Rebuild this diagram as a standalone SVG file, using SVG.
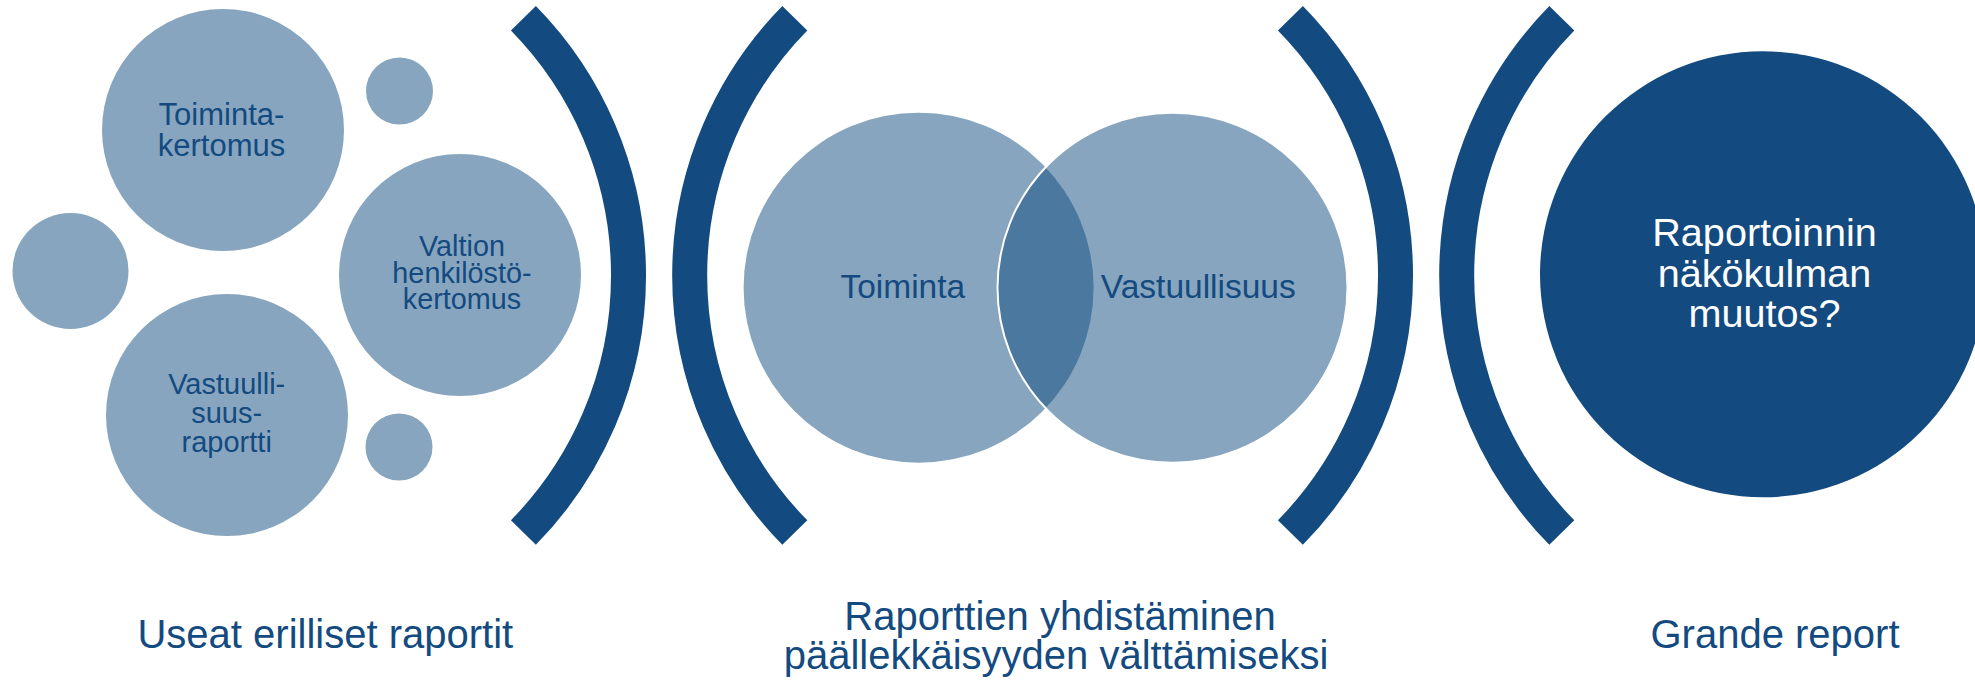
<svg xmlns="http://www.w3.org/2000/svg" width="1975" height="680" viewBox="0 0 1975 680">
  <style>
    .light { fill: #87A5BF; }
    .dark { fill: #134A7F; }
    .bracket { fill: none; stroke: #134A7F; stroke-width: 35; stroke-linecap: butt; }
    .t { font-family: "Liberation Sans", Arial, sans-serif; fill: #134A7F; text-anchor: middle; }
    .w { font-family: "Liberation Sans", Arial, sans-serif; fill: #FFFFFF; text-anchor: middle; }
  </style>
  <rect x="0" y="0" width="1975" height="680" fill="#FFFFFF"/>

  <!-- Left group: separate reports -->
  <g id="node-toimintakertomus">
    <circle class="light" cx="223" cy="130" r="121"/>
    <text class="t" font-size="31" x="221.5" y="125">Toiminta-</text>
    <text class="t" font-size="31" x="221.5" y="156">kertomus</text>
  </g>
  <g id="node-small-top">
    <circle class="light" cx="399.5" cy="91" r="33.5"/>
  </g>
  <g id="node-small-left">
    <circle class="light" cx="70.5" cy="271" r="58"/>
  </g>
  <g id="node-valtion">
    <circle class="light" cx="460" cy="275" r="121"/>
    <text class="t" font-size="28.8" x="462" y="256">Valtion</text>
    <text class="t" font-size="28.8" x="462" y="282.7">henkilöstö-</text>
    <text class="t" font-size="28.8" x="462" y="309.3">kertomus</text>
  </g>
  <g id="node-vastuullisuusraportti">
    <circle class="light" cx="227" cy="415" r="121"/>
    <text class="t" font-size="29" x="226.7" y="394">Vastuulli-</text>
    <text class="t" font-size="29" x="226.7" y="423">suus-</text>
    <text class="t" font-size="29" x="226.7" y="452">raportti</text>
  </g>
  <g id="node-small-bottom">
    <circle class="light" cx="399" cy="447" r="33.5"/>
  </g>

  <!-- Brackets -->
  <g id="connectors">
    <path class="bracket" d="M 523.4 18.25 A 367.1 367.1 0 0 1 523.4 532.55"/>
    <path class="bracket" d="M 794.8 18.25 A 367.1 367.1 0 0 0 794.8 532.55"/>
    <path class="bracket" d="M 1290.4 18.25 A 367.1 367.1 0 0 1 1290.4 532.55"/>
    <path class="bracket" d="M 1561.8 18.25 A 367.1 367.1 0 0 0 1561.8 532.55"/>
  </g>

  <!-- Middle: Venn -->
  <g id="node-toiminta">
    <circle class="light" cx="918.6" cy="287.7" r="175"/>
  </g>
  <g id="node-vastuullisuus">
    <circle cx="1172.5" cy="287.7" r="175" fill="#0F4B7F" fill-opacity="0.5" stroke="#FFFFFF" stroke-width="2"/>
  </g>
  <g id="venn-labels">
    <text class="t" font-size="33.5" x="902.8" y="298.3">Toiminta</text>
    <text class="t" font-size="33.5" x="1198.3" y="298.3">Vastuullisuus</text>
  </g>

  <!-- Right: grande report -->
  <g id="node-raportoinnin">
    <circle class="dark" cx="1763" cy="274.3" r="223"/>
    <text class="w" font-size="39.6" x="1764.5" y="246">Raportoinnin</text>
    <text class="w" font-size="39.6" x="1764.5" y="286.7">näkökulman</text>
    <text class="w" font-size="39.6" x="1764.5" y="327.3">muutos?</text>
  </g>

  <!-- Bottom labels -->
  <g id="label-useat">
    <text class="t" font-size="40" x="325.3" y="647.7">Useat erilliset raportit</text>
  </g>
  <g id="label-yhdistaminen">
    <text class="t" font-size="40" x="1060" y="630">Raporttien yhdistäminen</text>
    <text class="t" font-size="40" x="1056" y="669">päällekkäisyyden välttämiseksi</text>
  </g>
  <g id="label-grande">
    <text class="t" font-size="40" x="1775" y="647.7">Grande report</text>
  </g>
</svg>
